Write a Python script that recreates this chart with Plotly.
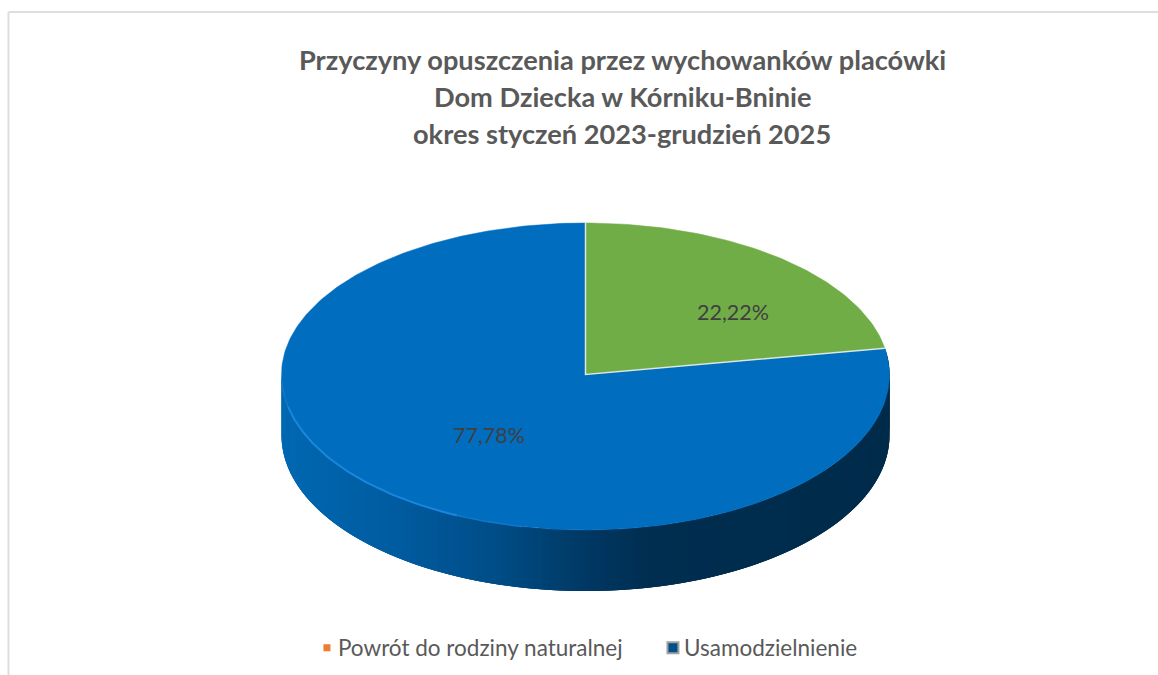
import math
import plotly.graph_objects as go

TITLE_LINES = ["Przyczyny opuszczenia przez wychowanków placówki",
               "Dom Dziecka w Kórniku-Bninie",
               "okres styczeń 2023-grudzień 2025"]
categories = ["Powrót do rodziny naturalnej", "Usamodzielnienie"]
values = [22.22, 77.78]
slice_colors = ["#70AD47", "#006DBF"]
legend_colors = ["#ED7D31", "#00508C"]

W, H = 1158, 675
CX, CY, RX, RUP, RDOWN, DEPTH = 585.5, 374.5, 304, 151.5, 155.5, 61
FONT = "Lato"


def pt(theta, drop=0.0):
    t = math.radians(theta)
    c = math.cos(t)
    return CX + RX * math.sin(t), CY - (RUP if c > 0 else RDOWN) * c + drop


def arc(a, b, drop=0.0, step=1.0):
    n = max(2, int(abs(b - a) / step) + 1)
    return [pt(a + (b - a) * i / (n - 1), drop) for i in range(n)]


WALL_STOPS = [(281, (0, 104, 178)), (400, (0, 91, 159)), (500, (0, 76, 134)), (560, (0, 62, 109)),
              (600, (0, 54, 96)), (650, (0, 46, 80)), (890, (0, 43, 74))]


def wall_color(x):
    for (x0, c0), (x1, c1) in zip(WALL_STOPS, WALL_STOPS[1:]):
        if x <= x1:
            f = max(0, (x - x0) / (x1 - x0))
            return "rgb(%d,%d,%d)" % tuple(round(c0[i] + (c1[i] - c0[i]) * f) for i in range(3))
    return "rgb(0,43,74)"


fig = go.Figure()
no_hover = dict(hoverinfo="skip", showlegend=False, mode="lines")

# slice angles, clockwise from 12 o'clock
first_end = values[0] / sum(values) * 360

# side wall of the large slice: overlapping vertical bands painted in order, so no seams show
a = first_end
while a < 270:
    b = min(a + 3, 270)
    top, bot = arc(a, b, 0, 0.5), arc(b, a, DEPTH, 0.5)
    poly = top + bot + [top[0]]
    col = wall_color(pt(a + 0.5)[0])
    fig.add_trace(go.Scatter(x=[p[0] for p in poly], y=[p[1] for p in poly], fill="toself",
                             fillcolor=col, line=dict(color=col, width=0), **no_hover))
    a += 1

# top faces
start = 0.0
for v, col in zip(values, slice_colors):
    end = start + v / sum(values) * 360
    poly = [(CX, CY)] + arc(start, end) + [(CX, CY)]
    fig.add_trace(go.Scatter(x=[p[0] for p in poly], y=[p[1] for p in poly], fill="toself",
                             fillcolor=col, line=dict(color=col, width=0.5), **no_hover))
    start = end

# light rim on the lower-left edge
for a, b, col, w in [(268, 258, "#0F78CC", 1.5), (258, 205, "#1A86DE", 2), (205, 192, "#0F78CC", 1.5)]:
    rim = arc(a, b)
    fig.add_trace(go.Scatter(x=[p[0] for p in rim], y=[p[1] for p in rim],
                             line=dict(color=col, width=w), **no_hover))

# pale separators between slices
sep = [pt(0), (CX, CY), pt(first_end)]
fig.add_trace(go.Scatter(x=[p[0] for p in sep], y=[p[1] for p in sep],
                         line=dict(color="#DDE8DC", width=1.5), **no_hover))

# legend entries
for i, (name, col) in enumerate(zip(categories, legend_colors)):
    fig.add_trace(go.Scatter(x=[None], y=[None], mode="markers", name=name,
                             marker=dict(symbol="square", color=col, size=7 if i == 0 else 11,
                                         line=dict(color="#A0A0A0", width=0 if i == 0 else 2))))

label_pos = [(733, 312), (489, 435)]
annotations = [dict(x=x, y=y, text=f"{v:.2f}".replace(".", ",") + "%", showarrow=False,
                    font=dict(family=FONT, size=21.5, color="#404040"))
               for v, (x, y) in zip(values, label_pos)]
for line, y in zip(TITLE_LINES, [59, 96, 133]):
    annotations.append(dict(x=622, y=y, text=f"<b>{line}</b>", showarrow=False,
                            font=dict(family=FONT, size=27.2, color="#595959")))

fig.update_layout(
    width=W, height=H, autosize=False, margin=dict(l=0, r=0, t=0, b=0),
    paper_bgcolor="white", plot_bgcolor="white", annotations=annotations,
    xaxis=dict(range=[0, W], visible=False, fixedrange=True),
    yaxis=dict(range=[H, 0], visible=False, fixedrange=True),
    legend=dict(orientation="h", x=0.2573, y=0.04, xanchor="left", yanchor="middle",
                font=dict(family=FONT, size=22.5, color="#595959"), bgcolor="rgba(0,0,0,0)",
                itemwidth=30, entrywidth=301, entrywidthmode="pixels"),
    shapes=[dict(type="line", xref="x", yref="y", x0=8.5, x1=W, y0=12, y1=12,
                 line=dict(color="#DEDEDE", width=2)),
            dict(type="line", xref="x", yref="y", x0=8.5, x1=8.5, y0=12, y1=H,
                 line=dict(color="#DEDEDE", width=2))],
)
POST = """
document.body.style.margin = '0';
document.documentElement.style.overflow = 'hidden';
document.querySelectorAll('.legendsymbols').forEach(function (g) {
  g.setAttribute('transform', 'translate(9,0)');
});
"""
fig.write_html("out.html", post_script=POST, config={"displayModeBar": False})
